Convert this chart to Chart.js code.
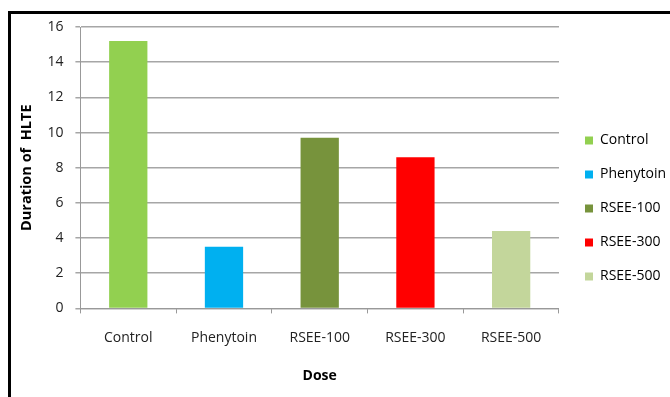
<!DOCTYPE html>
<html>
<head>
<meta charset="utf-8">
<script src="https://cdn.jsdelivr.net/npm/chart.js@4"></script>
<style>
  html, body { margin: 0; padding: 0; background: #fff; }
  #wrap { position: relative; width: 670px; height: 397px; }
  #frame { position: absolute; left: 8px; top: 11px; right: -10px; bottom: -10px;
           border-left: 3px solid #000; border-top: 3px solid #000; pointer-events: none; }
</style>
</head>
<body>
<div id="wrap">
  <canvas id="c" width="670" height="397"></canvas>
  <div id="frame"></div>
</div>
<script>
const categories = ['Control', 'Phenytoin', 'RSEE-100', 'RSEE-300', 'RSEE-500'];
const durations = [15.2, 3.5, 9.7, 8.6, 4.4];
const barColors = ['#92D050', '#00B0F0', '#77933C', '#FF0000', '#C3D69B'];
const yTicks = [0, 2, 4, 6, 8, 10, 12, 14, 16];

const FONT = '"Open Sans", Lato, sans-serif';
const FS = 14;

// Nudges the legend away from the plot, leaving a wider gap before the keys.
const legendShift = {
  id: 'legendShift',
  afterLayout(chart, args, opts) {
    const lg = chart.legend;
    if (!lg) return;
    lg.left += opts.dx; lg.right += opts.dx;
    lg.top += opts.dy; lg.bottom += opts.dy;
  }
};

new Chart(document.getElementById('c'), {
  type: 'bar',
  data: {
    labels: categories,
    datasets: [{
      label: 'Duration of HLTE',
      data: durations,
      backgroundColor: barColors,
      borderWidth: 0,
      categoryPercentage: 1.0,
      barPercentage: 0.4
    }]
  },
  plugins: [legendShift],
  options: {
    responsive: false,
    animation: false,
    devicePixelRatio: 1,
    layout: { padding: { left: 18, top: 27, right: 0, bottom: 13 } },
    plugins: {
      tooltip: { enabled: false },
      legendShift: { dx: 6, dy: 3 },
      legend: {
        position: 'right',
        align: 'center',
        labels: {
          font: { family: FONT, size: FS },
          color: '#222',
          boxWidth: 8,
          boxHeight: 8,
          padding: 20,
          generateLabels: () => categories.map((c, i) => ({
            text: c,
            fillStyle: barColors[i],
            strokeStyle: barColors[i],
            lineWidth: 0,
            index: i
          }))
        }
      }
    },
    scales: {
      x: {
        grid: { display: true, drawOnChartArea: false, drawTicks: true, tickLength: 5, offset: true, color: '#999' },
        border: { color: '#999' },
        ticks: { font: { family: FONT, size: FS }, color: '#222', padding: 16 },
        title: { display: true, text: 'Dose', font: { family: FONT, size: FS, weight: 'bold' }, color: '#000', padding: { top: 5, bottom: 0 } }
      },
      y: {
        min: 0,
        max: 16,
        afterBuildTicks: (s) => { s.ticks = yTicks.map(v => ({ value: v })); },
        grid: { color: '#a6a6a6', tickLength: 5, lineWidth: 1.5 },
        border: { color: '#999' },
        ticks: { font: { family: FONT, size: FS }, color: '#222', padding: 12 },
        title: { display: true, text: 'Duration of  HLTE', font: { family: FONT, size: 14.5, weight: 'bold' }, color: '#000', padding: { top: 0, bottom: 0 } }
      }
    }
  }
});
</script>
</body>
</html>
